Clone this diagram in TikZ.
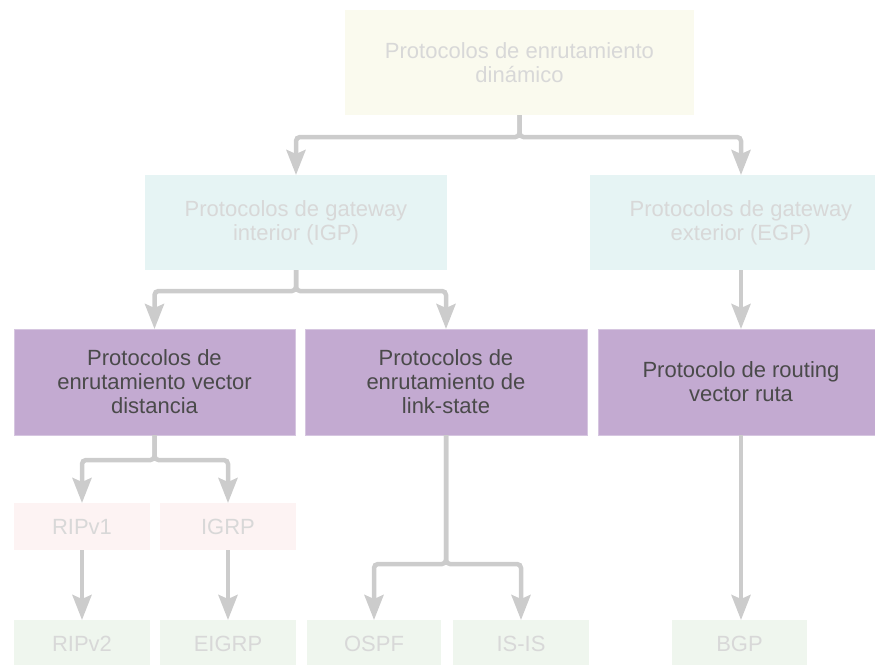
\documentclass[tikz,border=0pt]{standalone}
\usepackage{fontspec}
\setmainfont{Liberation Sans}
\usetikzlibrary{arrows.meta,calc}
\definecolor{creamfill}{HTML}{FAFAEE}
\definecolor{cyanfill}{HTML}{E6F4F4}
\definecolor{purplefill}{HTML}{C3AAD1}
\definecolor{purpleline}{HTML}{D6C6E0}
\definecolor{pinkfill}{HTML}{FDF3F3}
\definecolor{greenfill}{HTML}{EFF6EE}
\definecolor{fadetext}{HTML}{D8D8D8}
\definecolor{darktext}{HTML}{4A4A4A}
\definecolor{connline}{HTML}{CCCCCC}
\tikzset{
  basebox/.style={inner sep=0pt, outer sep=0pt, align=center,
    font=\fontsize{22}{24}\selectfont},
  topbox/.style={basebox, fill=creamfill, text=fadetext},
  gwbox/.style={basebox, fill=cyanfill, text=fadetext},
  mainbox/.style={basebox, fill=purplefill, draw=purpleline, line width=1pt, text=darktext},
  oldbox/.style={basebox, fill=pinkfill, text=fadetext},
  newbox/.style={basebox, fill=greenfill, text=fadetext},
  conn/.style={draw=connline, line width=4.5pt, rounded corners=4pt},
  arr/.style={conn, -{Stealth[width=19pt,length=25pt,inset=4pt]}}
}
\begin{document}
\begin{tikzpicture}[x=1pt,y=-1pt]
\useasboundingbox (0,0) rectangle (875,664);
\clip (0,0) rectangle (875,664);
% boxes
\node[topbox, minimum width=349pt, minimum height=105pt] (top) at (519.5,62.5) {Protocolos de enrutamiento\\dinámico};
\node[gwbox, minimum width=302pt, minimum height=95pt] (igp) at (296,222.5) {Protocolos de gateway\\interior (IGP)};
\node[gwbox, minimum width=302pt, minimum height=95pt] (egp) at (741,222.5) {Protocolos de gateway\\exterior (EGP)};
\node[mainbox, minimum width=281pt, minimum height=106pt] (vd) at (154.5,382) {Protocolos de\\enrutamiento vector\\distancia};
\node[mainbox, minimum width=282pt, minimum height=106pt] (ls) at (446,382) {Protocolos de\\enrutamiento de\\link-state};
\node[mainbox, minimum width=286pt, minimum height=106pt] (vr) at (741,382) {Protocolo de routing\\vector ruta};
\node[oldbox, minimum width=136pt, minimum height=47pt] (ripa) at (82,526.5) {RIPv1};
\node[oldbox, minimum width=136pt, minimum height=47pt] (igrp) at (228,526.5) {IGRP};
\node[newbox, minimum width=136pt, minimum height=47pt] (ripb) at (82,643.5) {RIPv2};
\node[newbox, minimum width=136pt, minimum height=47pt] (eigrp) at (228,643.5) {EIGRP};
\node[newbox, minimum width=134pt, minimum height=47pt] (ospf) at (374,643.5) {OSPF};
\node[newbox, minimum width=136pt, minimum height=47pt] (isis) at (521,643.5) {IS-IS};
\node[newbox, minimum width=135pt, minimum height=47pt] (bgp) at (739.5,643.5) {BGP};
% connectors
\draw[arr] (top.south) -- ++(0,22) -| (igp.north);
\draw[arr] (top.south) -- ++(0,22) -| (egp.north);
\draw[arr] (igp.south) -- ++(0,21) -| (vd.north);
\draw[arr] (igp.south) -- ++(0,21) -| (ls.north);
\draw[arr] (egp.south) -- (vr.north);
\draw[arr] (vd.south) -- ++(0,25) -| (ripa.north);
\draw[arr] (vd.south) -- ++(0,25) -| (igrp.north);
\draw[arr] (ripa.south) -- (ripb.north);
\draw[arr] (igrp.south) -- (eigrp.north);
\draw[arr] (ls.south) -- ++(0,129) -| (ospf.north);
\draw[arr] (ls.south) -- ++(0,129) -| (isis.north);
\draw[arr] (vr.south) -- (vr.south |- bgp.north);
\end{tikzpicture}
\end{document}
